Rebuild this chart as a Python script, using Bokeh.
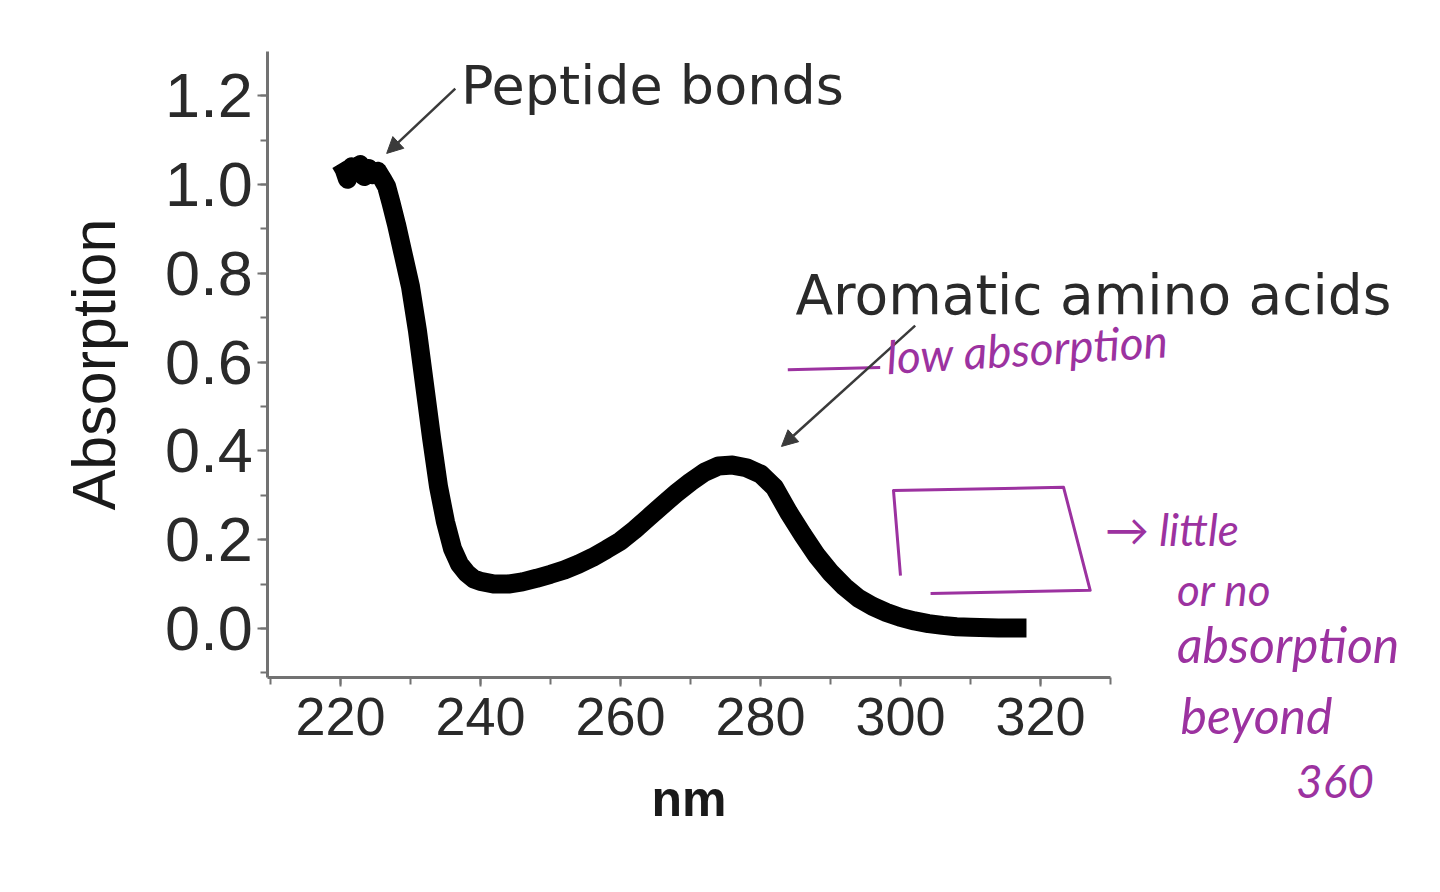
from bokeh.plotting import figure
from bokeh.models import (Arrow, NormalHead, Label, SingleIntervalTicker,
                          PrintfTickFormatter)
from bokeh.embed import file_html
from bokeh.resources import INLINE

# ---------------- data ----------------
wavelength = [220.0, 220.5, 221.0, 221.6, 222.2, 222.8, 223.4, 224.0, 224.6,
              225.3, 226.0, 226.6,
              227.2, 228.0, 229.0, 230.0, 231.0, 232.0, 233.0, 234.0, 235.0,
              236.0, 237.0, 238.0, 239.0, 240.0, 242.0, 244.0, 246.0, 248.0,
              250.0, 252.0, 254.0, 256.0, 258.0, 260.0, 262.0, 264.0, 266.0,
              268.0, 270.0, 272.0, 274.0, 276.0, 278.0, 280.0, 282.0, 284.0,
              286.0, 288.0, 290.0, 292.0, 294.0, 296.0, 298.0, 300.0, 302.0,
              304.0, 306.0, 308.0, 310.0, 314.0, 318.0]
absorption = [1.048, 1.035, 1.012, 1.04, 1.028, 1.045, 1.018, 1.036, 1.022,
              1.03, 1.012, 0.995,
              0.96, 0.91, 0.84, 0.77, 0.67, 0.55, 0.43, 0.32, 0.24,
              0.18, 0.145, 0.125, 0.112, 0.106, 0.100, 0.100, 0.105, 0.113,
              0.122, 0.132, 0.145, 0.160, 0.178, 0.197, 0.222, 0.250, 0.278,
              0.305, 0.330, 0.352, 0.366, 0.368, 0.362, 0.348, 0.318, 0.262,
              0.212, 0.165, 0.126, 0.094, 0.068, 0.050, 0.036, 0.025, 0.017,
              0.011, 0.007, 0.004, 0.003, 0.001, 0.001]

x_label = "nm"
y_label = "Absorption"
peptide_text = "Peptide bonds"
aromatic_text = "Aromatic amino acids"
note_low = "low absorption"
note_lines = ["\u2192 little", "or no", "absorption", "beyond", "360"]

X_MIN, X_MAX = 209.6, 330    # extent of the drawn x axis
Y_MIN, Y_MAX = -0.11, 1.3    # extent of the drawn y axis

# ---------------- figure ----------------
# the frame spans the whole canvas so that the notes outside the axes are
# visible; the axes are pinned to the data extent with fixed_location/bounds.
p = figure(width=1424, height=876, x_range=(171.43, 374.86),
           y_range=(-0.5586, 1.4144),
           output_backend="svg", toolbar_location=None,
           min_border_left=0, min_border_right=0,
           min_border_top=0, min_border_bottom=0)
p.outline_line_color = None
p.xgrid.visible = False
p.ygrid.visible = False
p.background_fill_color = "white"
p.border_fill_color = "white"

axis_col = "#727272"
for ax in (p.xaxis[0], p.yaxis[0]):
    ax.axis_line_color = axis_col
    ax.axis_line_width = 3
    ax.major_tick_line_color = axis_col
    ax.minor_tick_line_color = axis_col
    ax.major_tick_line_width = 2
    ax.minor_tick_line_width = 2
    ax.major_tick_in = 0
    ax.minor_tick_in = 0
    ax.major_label_text_font = "Liberation Sans"
    ax.major_label_text_color = "#2a2a2a"
    ax.axis_label_text_color = "#1a1a1a"

xa = p.xaxis[0]
xa.fixed_location = Y_MIN
xa.bounds = (X_MIN, X_MAX)
xa.ticker = SingleIntervalTicker(interval=20, num_minor_ticks=2)
xa.major_tick_out = 9
xa.minor_tick_out = 7
xa.major_label_text_font_size = "54px"
xa.major_label_standoff = 12
xa.axis_label = x_label
xa.axis_label_text_font = "Liberation Sans"
xa.axis_label_text_font_style = "bold"
xa.axis_label_text_font_size = "50px"
xa.axis_label_standoff = 32

ya = p.yaxis[0]
ya.fixed_location = X_MIN
ya.bounds = (Y_MIN, Y_MAX)
ya.ticker = SingleIntervalTicker(interval=0.2, num_minor_ticks=2)
ya.formatter = PrintfTickFormatter(format="%.1f")
ya.major_tick_out = 10
ya.minor_tick_out = 7
ya.major_label_text_font_size = "63px"
ya.major_label_standoff = 5
ya.axis_label = y_label
ya.axis_label_text_font = "Liberation Sans"
ya.axis_label_text_font_style = "normal"
ya.axis_label_text_font_size = "61px"
ya.axis_label_standoff = 34

# spectrum
p.line(wavelength, absorption, line_color="black", line_width=19,
       line_join="round", line_cap="butt")

# printed annotations
ann_col = "#3a3a3a"
p.add_layout(Arrow(end=NormalHead(size=16, fill_color=ann_col, line_color=ann_col),
                   x_start=236.4, y_start=1.216, x_end=226.6, y_end=1.07,
                   line_color=ann_col, line_width=2.5))
p.add_layout(Arrow(end=NormalHead(size=16, fill_color=ann_col, line_color=ann_col),
                   x_start=302.1, y_start=0.682, x_end=283.0, y_end=0.41,
                   line_color=ann_col, line_width=2.5))
p.add_layout(Label(x=237.2, y=1.222, text=peptide_text, text_font="DejaVu Sans",
                   text_font_size="54px", text_color="#2a2a2a",
                   text_baseline="middle"))
p.add_layout(Label(x=285.0, y=0.752, text=aromatic_text, text_font="DejaVu Sans",
                   text_font_size="55px", text_color="#2a2a2a",
                   text_baseline="middle"))

# hand-written (purple) annotations
pur = "#9c32a0"
p.line([283.9, 297.1], [0.583, 0.588], line_color=pur, line_width=3)
p.add_layout(Label(x=298.0, y=0.612, text=note_low, text_font="Lato",
                   text_font_style="italic", text_font_size="46px",
                   text_color=pur, text_baseline="middle", angle=0.06))
p.line([300.0, 299.0, 323.3, 327.1, 304.3],
       [0.119, 0.311, 0.318, 0.086, 0.079],
       line_color=pur, line_width=3, line_join="round")
note_pos = [(329.2, 0.225), (339.5, 0.088), (339.5, -0.035), (340.0, -0.195),
            (356.5, -0.345)]
note_size = ["44px", "44px", "50px", "50px", "46px"]
for t, (nx, ny), fs in zip(note_lines, note_pos, note_size):
    p.add_layout(Label(x=nx, y=ny, text=t, text_font="Lato",
                       text_font_style="italic", text_font_size=fs,
                       text_color=pur, text_baseline="middle"))

open("out.html", "w").write(file_html(p, INLINE))
